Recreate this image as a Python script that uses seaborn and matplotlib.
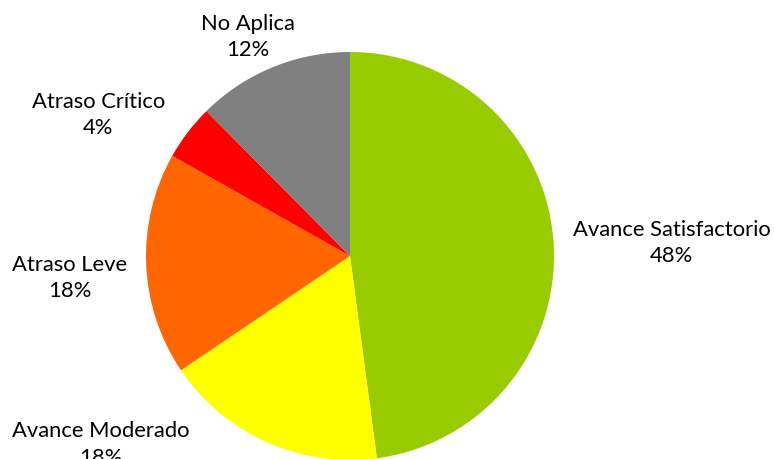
import seaborn as sns
import matplotlib
matplotlib.use("Agg")
import matplotlib.pyplot as plt

# categories, clockwise from 12 o'clock
categories = ["Avance Satisfactorio", "Avance Moderado", "Atraso Leve",
              "Atraso Crítico", "No Aplica"]
# share of each slice (rounds to the printed labels)
shares = [47.8, 17.6, 17.6, 4.4, 12.4]
colors = ["#99CC00", "#FFFF00", "#FF6600", "#FF0000", "#808080"]

# where each label block sits, in pie-radius units from the centre
label_pos = [(1.578, 0.069), (-1.22, -0.92), (-1.373, -0.103),
             (-1.234, 0.696), (-0.50, 1.078)]


def main():
    sns.set_theme(style="white")
    plt.rcParams["font.family"] = ["Lato", "DejaVu Sans"]

    W, H = 774, 460
    cx, cy, r = 350, 257, 204  # pie centre and radius, pixels

    fig = plt.figure(figsize=(W / 100, H / 100), dpi=100)
    ax = fig.add_axes([0, 0, 1, 1])
    ax.pie(shares, colors=colors, startangle=90, counterclock=False,
           wedgeprops=dict(linewidth=0))

    total = sum(shares)
    for name, v, (x, y) in zip(categories, shares, label_pos):
        ax.text(x, y, f"{name}\n{v / total * 100:.0f}%", ha="center",
                va="center", fontsize=15.8, color="#000000",
                linespacing=1.4)

    ax.set_xlim(-cx / r, (W - cx) / r)
    ax.set_ylim(-(H - cy) / r, cy / r)
    ax.set_aspect("equal")
    ax.axis("off")

    fig.savefig("out.png", dpi=100, facecolor="white")


if __name__ == "__main__":
    main()
